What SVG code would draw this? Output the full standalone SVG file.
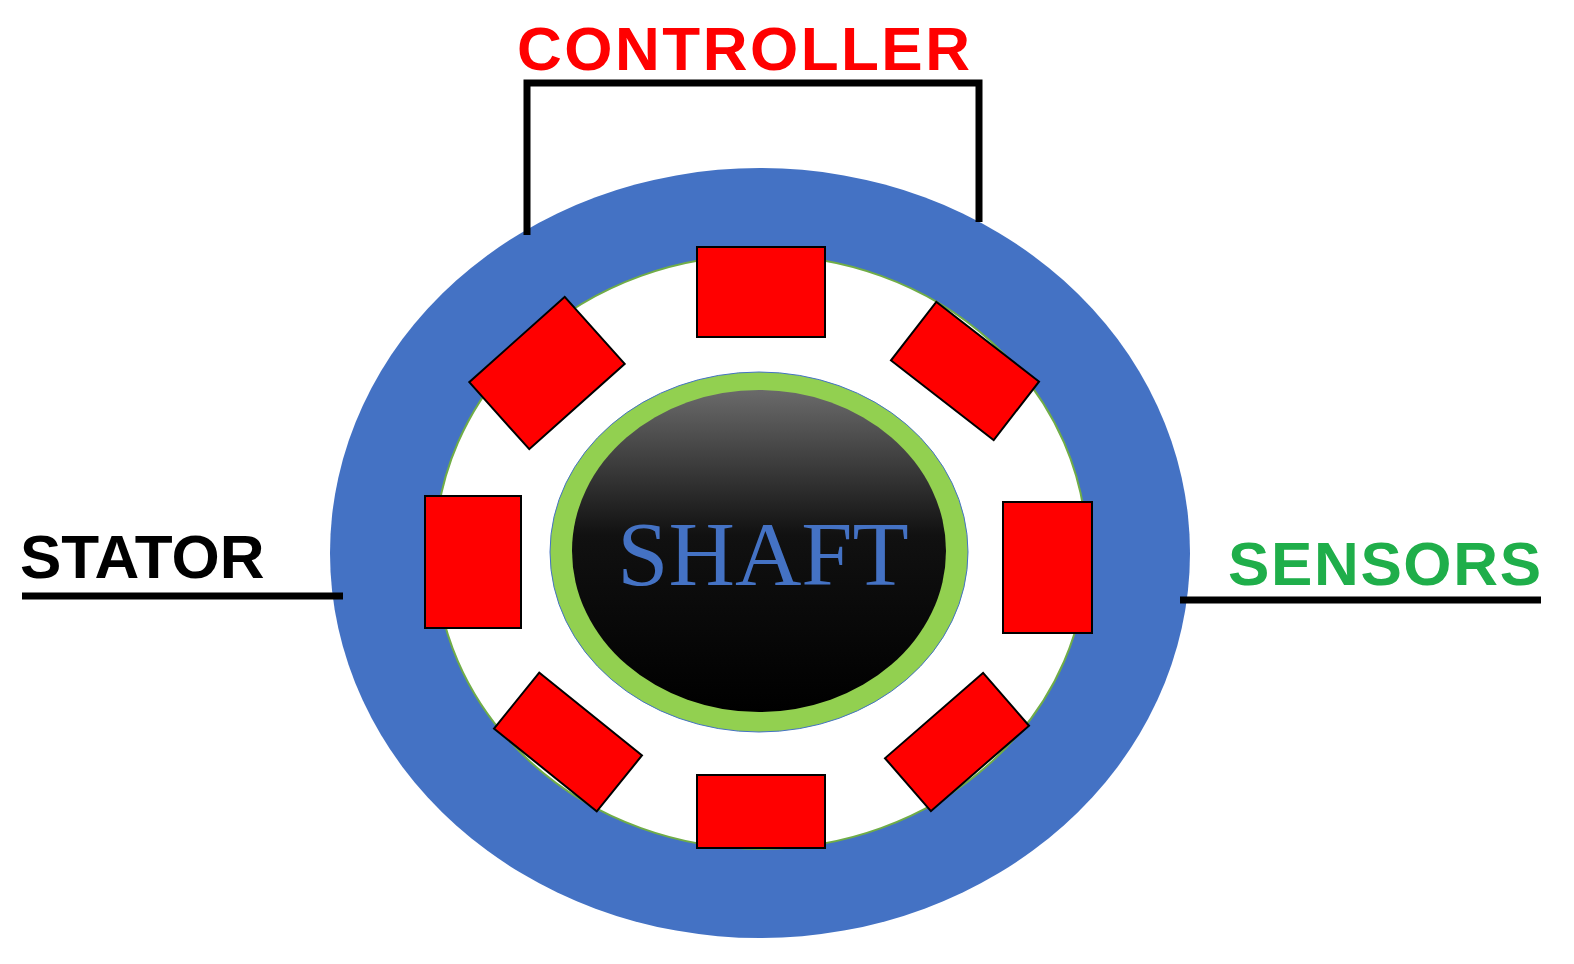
<svg xmlns="http://www.w3.org/2000/svg" width="1574" height="964" viewBox="0 0 1574 964">
<style>
.mag{fill:#ff0000;stroke:#000;stroke-width:2}
.ln{stroke:#000;stroke-width:7;fill:none}
.lbl{font-family:"Liberation Sans",Arial,sans-serif;font-weight:bold}
</style>
<defs>
<linearGradient id="sg" x1="0" y1="0" x2="0" y2="1">
<stop offset="0" stop-color="#6a6a6a"/><stop offset="0.45" stop-color="#111"/><stop offset="1" stop-color="#000"/>
</linearGradient>
</defs>
<rect width="1574" height="964" fill="#fff"/>
<g id="stator">
<ellipse cx="760" cy="553" rx="430" ry="385" fill="#4472c4"/>
<ellipse cx="761" cy="552" rx="326" ry="297" fill="#fff" stroke="#70ad47" stroke-width="2"/>
</g>
<g id="magnets">
<rect class="mag" x="697" y="247" width="128" height="90"/>
<rect class="mag" x="697" y="775" width="128" height="73"/>
<rect class="mag" x="425" y="496" width="96" height="132"/>
<rect class="mag" x="1003" y="502" width="89" height="131"/>
<rect class="mag" x="-64" y="-45" width="128" height="90" transform="translate(547,373) rotate(-41.8)"/>
<rect class="mag" x="-65" y="-37" width="130" height="74" transform="translate(965,371) rotate(37.8)"/>
<rect class="mag" x="-66" y="-36" width="132" height="72" transform="translate(568,742) rotate(38.9)"/>
<rect class="mag" x="-65" y="-35" width="130" height="70" transform="translate(957,742) rotate(-41)"/>
</g>
<g id="shaft">
<ellipse cx="759" cy="552" rx="209" ry="180" fill="#92d050" stroke="#4472c4" stroke-width="1"/>
<ellipse cx="759" cy="551" rx="187" ry="161" fill="url(#sg)"/>
<text x="763" y="585" text-anchor="middle" font-family="Liberation Serif,'Times New Roman',serif" font-size="92" fill="#4472c4">SHAFT</text>
</g>
<g id="connectors">
<polyline class="ln" points="527,235 527,83 979,83 979,222"/>
<line class="ln" x1="22" y1="596" x2="343" y2="596"/>
<line class="ln" x1="1180" y1="600" x2="1541" y2="600"/>
</g>
<g id="labels">
<text class="lbl" x="517" y="70" font-size="62" fill="#ff0000" textLength="453">CONTROLLER</text>
<text class="lbl" x="20" y="578" font-size="62" fill="#000">STATOR</text>
<text class="lbl" x="1228" y="585" font-size="62" fill="#1fae4a" textLength="313">SENSORS</text>
</g>
</svg>
